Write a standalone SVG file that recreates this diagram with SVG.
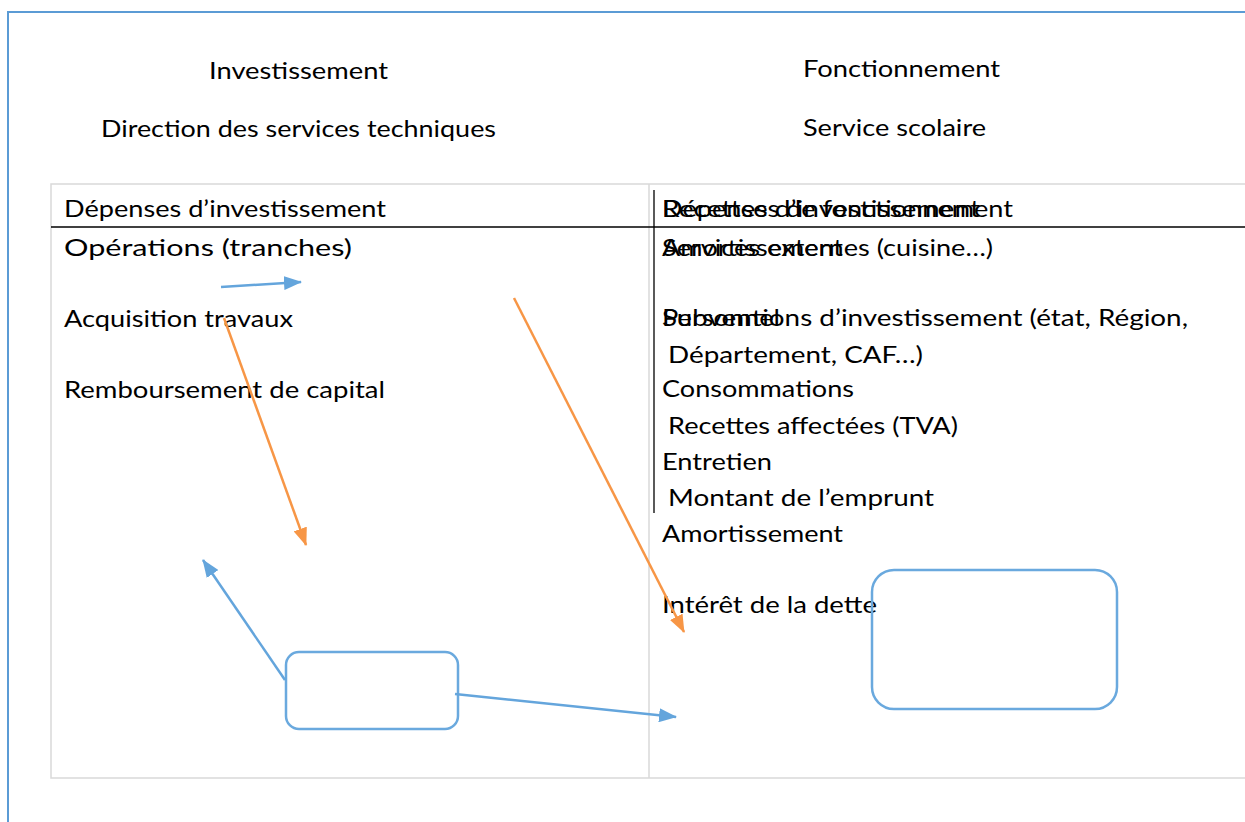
<svg xmlns="http://www.w3.org/2000/svg" width="1245" height="822" viewBox="0 0 1245 822">
<style>
  .t { font-family: Lato, "Liberation Sans", sans-serif; font-size: 24px; fill: #000; }
  .grid { stroke: #d9d9d9; stroke-width: 1.5; fill: none; }
  .blk { stroke: #000; stroke-width: 1.3; }
  .ab { stroke: #64a5dc; stroke-width: 2.5; fill: none; marker-end: url(#hb); }
  .ao { stroke: #f79646; stroke-width: 2.5; fill: none; marker-end: url(#ho); }
  .box { fill: none; stroke: #6aa9de; stroke-width: 2.5; }
</style>
<defs>
  <marker id="hb" markerUnits="userSpaceOnUse" markerWidth="18" markerHeight="14" refX="17" refY="7" orient="auto" viewBox="0 0 18 14">
    <path d="M0,0 L18,7 L0,14 z" fill="#64a5dc"/>
  </marker>
  <marker id="ho" markerUnits="userSpaceOnUse" markerWidth="18" markerHeight="14" refX="17" refY="7" orient="auto" viewBox="0 0 18 14">
    <path d="M0,0 L18,7 L0,14 z" fill="#f79646"/>
  </marker>
</defs>
<rect width="1245" height="822" fill="#fff"/>
<g id="page-border">
  <path d="M8,822 V12 H1245" fill="none" stroke="#5b9bd5" stroke-width="2"/>
</g>
<g id="table">
  <path class="grid" d="M1245,184 H51 V778 H1245"/>
  <line class="grid" x1="649" y1="184" x2="649" y2="778"/>
  <line class="blk" x1="51" y1="227" x2="1245" y2="227"/>
  <line class="blk" x1="654" y1="190" x2="654" y2="513"/>
</g>
<g id="headings">
  <text class="t" x="209" y="79" textLength="179" lengthAdjust="spacingAndGlyphs">Investissement</text>
  <text class="t" x="101" y="137" textLength="395" lengthAdjust="spacingAndGlyphs">Direction des services techniques</text>
  <text class="t" x="803" y="77" textLength="197" lengthAdjust="spacingAndGlyphs">Fonctionnement</text>
  <text class="t" x="803" y="136" textLength="183" lengthAdjust="spacingAndGlyphs">Service scolaire</text>
</g>
<g id="left-column">
  <text class="t" x="64" y="217" textLength="322" lengthAdjust="spacingAndGlyphs">Dépenses d’investissement</text>
  <text class="t" x="64" y="256" textLength="288" lengthAdjust="spacingAndGlyphs">Opérations (tranches)</text>
  <text class="t" x="64" y="327" textLength="229" lengthAdjust="spacingAndGlyphs">Acquisition travaux</text>
  <text class="t" x="64" y="398" textLength="321" lengthAdjust="spacingAndGlyphs">Remboursement de capital</text>
</g>
<g id="right-column">
  <text class="t" x="662" y="217" textLength="351" lengthAdjust="spacingAndGlyphs">Dépenses de fonctionnement</text>
  <text class="t" x="662" y="217" textLength="318" lengthAdjust="spacingAndGlyphs">Recettes d’investissement</text>
  <text class="t" x="662" y="256" textLength="331" lengthAdjust="spacingAndGlyphs">Services externes (cuisine…)</text>
  <text class="t" x="662" y="256" textLength="181" lengthAdjust="spacingAndGlyphs">Amortissement</text>
  <text class="t" x="662" y="326" textLength="118" lengthAdjust="spacingAndGlyphs">Personnel</text>
  <text class="t" x="662" y="326" textLength="526" lengthAdjust="spacingAndGlyphs">Subventions d’investissement (état, Région,</text>
  <text class="t" x="668" y="363" textLength="255" lengthAdjust="spacingAndGlyphs">Département, CAF…)</text>
  <text class="t" x="662" y="397" textLength="192" lengthAdjust="spacingAndGlyphs">Consommations</text>
  <text class="t" x="668" y="434" textLength="290" lengthAdjust="spacingAndGlyphs">Recettes affectées (TVA)</text>
  <text class="t" x="662" y="470" textLength="110" lengthAdjust="spacingAndGlyphs">Entretien</text>
  <text class="t" x="668" y="506" textLength="266" lengthAdjust="spacingAndGlyphs">Montant de l’emprunt</text>
  <text class="t" x="662" y="542" textLength="181" lengthAdjust="spacingAndGlyphs">Amortissement</text>
  <text class="t" x="662" y="613" textLength="215" lengthAdjust="spacingAndGlyphs">Intérêt de la dette</text>
</g>
<g id="node-box-left">
  <rect class="box" x="286" y="652" width="172" height="77" rx="13"/>
</g>
<g id="node-box-right">
  <rect class="box" x="872" y="570" width="245" height="139" rx="22"/>
</g>
<g id="connectors">
  <line class="ab" x1="221" y1="287" x2="301" y2="282"/>
  <line class="ao" x1="224" y1="318" x2="306" y2="545"/>
  <line class="ao" x1="514" y1="298" x2="684" y2="632"/>
  <line class="ab" x1="285" y1="680" x2="203" y2="560"/>
  <line class="ab" x1="455" y1="694" x2="676" y2="717"/>
</g>
</svg>
